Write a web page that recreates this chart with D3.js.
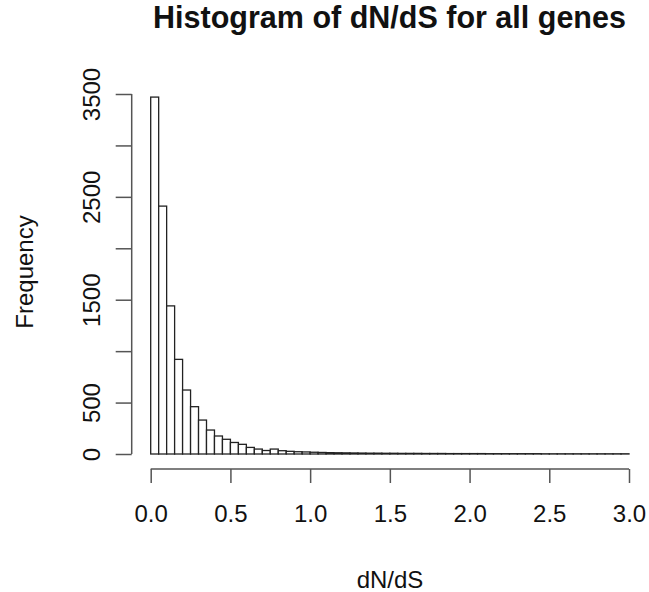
<!DOCTYPE html>
<html>
<head>
<meta charset="utf-8">
<script src="https://cdn.jsdelivr.net/npm/d3@7"></script>
<style>
body { margin: 0; background: #fff; }
svg { display: block; }
text { font-family: "Liberation Sans", Arial, Helvetica, sans-serif; fill: #111; }
</style>
</head>
<body>
<svg id="chart" width="649" height="592"></svg>
<script>
// Histogram bins of dN/dS (width 0.05, from 0 to 3.0)
const binWidth = 0.05;
const binStart = 0;
const counts = [
  3470, 2410, 1440, 920, 622, 460, 330, 233, 175, 143,
  112, 94, 64, 48, 34, 48, 32, 26, 22, 20,
  17, 15, 13, 12, 11, 10, 9, 8, 8, 7,
  7, 6, 6, 6, 5, 5, 5, 4, 4, 4,
  4, 4, 3, 3, 3, 3, 3, 3, 3, 2,
  2, 2, 2, 2, 2, 2, 2, 2, 2, 2
];
const xTicks = [0, 0.5, 1.0, 1.5, 2.0, 2.5, 3.0];
const yTicks = [0, 500, 1000, 1500, 2000, 2500, 3000, 3500];
const yTickLabels = ["0", "500", "", "1500", "", "2500", "", "3500"];
const title = "Histogram of dN/dS for all genes";
const xLabel = "dN/dS";
const yLabel = "Frequency";

const bins = counts.map((c, i) => ({ x0: binStart + i * binWidth, x1: binStart + (i + 1) * binWidth, count: c }));

const svg = d3.select("#chart");
const x = d3.scaleLinear().domain([0, 3]).range([150.7, 629]);
const y = d3.scaleLinear().domain([0, 3500]).range([454, 94]);

// bars
svg.append("g").selectAll("rect").data(bins).join("rect")
  .attr("x", d => x(d.x0))
  .attr("y", d => y(d.count))
  .attr("width", d => x(d.x1) - x(d.x0))
  .attr("height", d => y(0) - y(d.count))
  .attr("fill", "#fff")
  .attr("stroke", "#222")
  .attr("stroke-width", 1.3);

// x axis
const xAxis = svg.append("g").attr("transform", "translate(0,469)")
  .call(d3.axisBottom(x).tickValues(xTicks).tickFormat(d3.format(".1f")).tickSize(14).tickPadding(22));
xAxis.select(".domain").attr("stroke", "#555").attr("stroke-width", 1.5).attr("d", `M${x(0)},0H${x(3)}`);
xAxis.selectAll(".tick line").attr("stroke", "#555").attr("stroke-width", 1.5);
xAxis.selectAll(".tick text").attr("font-size", 24).attr("fill", "#111")
  .attr("font-family", "Liberation Sans, Arial, sans-serif");

// y axis
const yAxis = svg.append("g").attr("transform", "translate(131.7,0)")
  .call(d3.axisLeft(y).tickValues(yTicks).tickFormat((d, i) => yTickLabels[i]).tickSize(16).tickPadding(0));
yAxis.select(".domain").attr("stroke", "#555").attr("stroke-width", 1.5).attr("d", `M0,${y(0)}V${y(3500)}`);
yAxis.selectAll(".tick line").attr("stroke", "#555").attr("stroke-width", 1.5);
yAxis.selectAll(".tick text")
  .attr("font-size", 24).attr("fill", "#111")
  .attr("font-family", "Liberation Sans, Arial, sans-serif")
  .attr("text-anchor", "middle")
  .attr("dy", null)
  .attr("x", null)
  .attr("transform", "translate(-40,0) rotate(-90)")
  .attr("dominant-baseline", "central");

// title
svg.append("text").attr("x", 389.5).attr("y", 28).attr("text-anchor", "middle")
  .attr("font-size", 30.5).attr("font-weight", "bold").text(title);

// x label
svg.append("text").attr("x", 390).attr("y", 588).attr("text-anchor", "middle")
  .attr("font-size", 24).text(xLabel);

// y label
svg.append("text").attr("transform", "translate(33,272) rotate(-90)").attr("text-anchor", "middle")
  .attr("font-size", 24).text(yLabel);
</script>
</body>
</html>
